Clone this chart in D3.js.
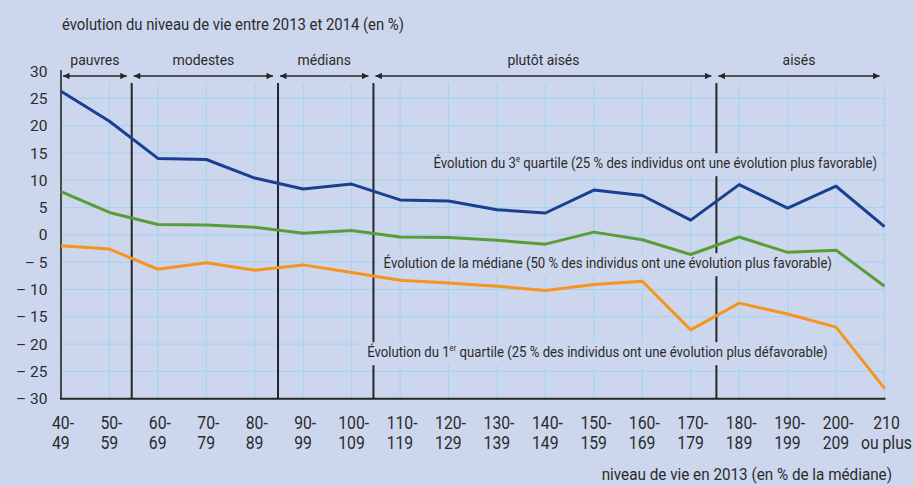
<!DOCTYPE html>
<html>
<head>
<meta charset="utf-8">
<script src="https://cdn.jsdelivr.net/npm/d3@7"></script>
<style>
  body { margin: 0; background: #ccd7ee; }
  svg { display: block; }
  text { font-family: Roboto, "Liberation Sans", sans-serif; fill: #2b2b2b; }
</style>
</head>
<body>
<div class="chart-container"></div>
<script>
const width = 914;
const height = 486;

// niveau de vie en 2013 (en % de la médiane)
const categories = ['40-|49', '50-|59', '60-|69', '70-|79', '80-|89', '90-|99', '100-|109',
  '110-|119', '120-|129', '130-|139', '140-|149', '150-|159', '160-|169', '170-|179',
  '180-|189', '190-|199', '200-|209', '210|ou plus'];

// évolution du niveau de vie entre 2013 et 2014 (en %)
const q3 = [26.3, 20.8, 14.0, 13.8, 10.4, 8.4, 9.3, 6.4, 6.2, 4.6, 4.0, 8.2, 7.2, 2.7, 9.2, 4.9, 8.9, 1.5];
const median = [7.9, 4.1, 1.9, 1.8, 1.4, 0.3, 0.8, -0.4, -0.5, -1.0, -1.7, 0.5, -0.9, -3.6, -0.4, -3.2, -2.8, -9.4];
const q1 = [-2.0, -2.6, -6.3, -5.1, -6.5, -5.5, -6.9, -8.3, -8.8, -9.4, -10.2, -9.1, -8.5, -17.4, -12.5, -14.5, -16.9, -28.1];

const yTicks = [30, 25, 20, 15, 10, 5, 0, -5, -10, -15, -20, -25, -30];

// groupes de niveau de vie (bornes en rang de catégorie)
const groups = ['pauvres', 'modestes', 'médians', 'plutôt aisés', 'aisés'];
const groupBounds = [0, 1.46, 4.48, 6.45, 13.53, 17];

// annotations : [texte avant exposant, exposant, suite], ancrage en rang / valeur
const notes = [
  { parts: ['Évolution du 3', 'e', ' quartile (25 % des individus ont une évolution plus favorable)'], at: 7.69, v: 12.2 },
  { parts: ['Évolution de la médiane (50 % des individus ont une évolution plus favorable)', '', ''], at: 6.66, v: -6.1 },
  { parts: ['Évolution du 1', 'er', ' quartile (25 % des individus ont une évolution plus défavorable)'], at: 6.32, v: -22.4 }
];

const series = [
  { values: q3, color: '#1b3f90' },
  { values: median, color: '#5a9d38' },
  { values: q1, color: '#f7941d' }
];

const bg = '#ccd7ee';
const ink = '#262626';

const svg = d3.select('.chart-container').append('svg')
  .attr('xmlns', 'http://www.w3.org/2000/svg')
  .attr('width', width)
  .attr('height', height);

// texte « condensé » : Roboto resserré horizontalement
let condensed = (parent, x, y, size, sx) => {
  return parent.append('g')
    .attr('transform', 'translate(' + x + ',' + y + ') scale(' + sx + ',1)')
    .style('font-size', size + 'px');
};

const scaleX = d3.scaleLinear().domain([0, categories.length - 1]).range([61, 884.5]);
const scaleY = d3.scaleLinear().domain([-30, 30]).range([398.7, 71]);
const gridTop = 83;

// grille
const grid = svg.append('g');
grid.selectAll('line.v').data(categories.slice(1)).enter().append('line')
  .attr('x1', (d, i) => scaleX(i + 1)).attr('x2', (d, i) => scaleX(i + 1))
  .attr('y1', gridTop).attr('y2', scaleY(-30))
  .attr('stroke', '#a3d2f2').attr('stroke-width', 1);
grid.selectAll('line.h').data(yTicks.filter(t => t < 30 && t > -30)).enter().append('line')
  .attr('x1', scaleX(0)).attr('x2', scaleX(17))
  .attr('y1', d => scaleY(d)).attr('y2', d => scaleY(d))
  .attr('stroke', '#a3d2f2').attr('stroke-width', 1);

// séparateurs entre groupes
svg.append('g').selectAll('line').data(groupBounds.slice(1, -1)).enter().append('line')
  .attr('x1', d => scaleX(d)).attr('x2', d => scaleX(d))
  .attr('y1', gridTop).attr('y2', scaleY(-30))
  .attr('stroke', ink).attr('stroke-width', 2);

// axes
svg.append('line').attr('x1', scaleX(0)).attr('x2', scaleX(0))
  .attr('y1', 70).attr('y2', scaleY(-30)).attr('stroke', ink).attr('stroke-width', 1.6);
svg.append('line').attr('x1', scaleX(0) - 1).attr('x2', scaleX(17) + 1)
  .attr('y1', scaleY(-30)).attr('y2', scaleY(-30)).attr('stroke', ink).attr('stroke-width', 2);

// flèches des groupes
const defs = svg.append('defs');
defs.append('marker').attr('id', 'arrow').attr('viewBox', '0 0 10 10')
  .attr('refX', 10).attr('refY', 5).attr('markerWidth', 8).attr('markerHeight', 6.5)
  .attr('markerUnits', 'userSpaceOnUse').attr('orient', 'auto-start-reverse')
  .append('path').attr('d', 'M0,0L10,5L0,10Z').attr('fill', ink);

const arrows = svg.append('g');
groups.forEach((name, i) => {
  const x1 = scaleX(groupBounds[i]) + 2;
  const x2 = scaleX(groupBounds[i + 1]) - 5;
  arrows.append('line').attr('x1', x1).attr('x2', x2).attr('y1', 76).attr('y2', 76)
    .attr('stroke', ink).attr('stroke-width', 1.3)
    .attr('marker-start', 'url(#arrow)').attr('marker-end', 'url(#arrow)');
  condensed(arrows, (x1 + x2) / 2, 65, 15.5, 0.9).append('text')
    .attr('text-anchor', 'middle').text(name);
});

// annotations avec fond
const noteG = svg.append('g');
notes.forEach((n) => {
  const g = condensed(noteG, scaleX(n.at), scaleY(n.v), 15.5, 0.85);
  const t = g.append('text');
  t.append('tspan').text(n.parts[0]);
  if (n.parts[1]) {
    t.append('tspan').attr('dy', -6).style('font-size', '9px').text(n.parts[1]);
    t.append('tspan').attr('dy', 6).text(n.parts[2]);
  }
  const bb = t.node().getBBox();
  g.insert('rect', 'text')
    .attr('x', -5).attr('y', -15).attr('width', bb.width + 10).attr('height', 23)
    .attr('fill', bg);
});

// courbes
const line = d3.line().x((d, i) => scaleX(i)).y(d => scaleY(d));
svg.append('g').selectAll('path').data(series).enter().append('path')
  .attr('d', d => line(d.values))
  .attr('fill', 'none').attr('stroke', d => d.color).attr('stroke-width', 3)
  .attr('stroke-linejoin', 'round');

// graduations Y
svg.append('g').selectAll('text').data(yTicks).enter().append('text')
  .attr('x', 47.5).attr('y', d => scaleY(d)).attr('dy', '0.36em')
  .attr('text-anchor', 'end').style('font-size', '15.5px')
  .text(d => d < 0 ? '\u2013 ' + Math.abs(d) : d);

// libellés X
const xLabels = svg.append('g');
categories.forEach((c, i) => {
  const [a, b] = c.split('|');
  const g = condensed(xLabels, scaleX(i) + 2, 429, 17.5, 0.9);
  const l1 = g.append('text').attr('text-anchor', 'middle').text(a);
  if (i === categories.length - 1) {
    g.append('text').attr('y', 20).attr('text-anchor', 'middle').text(b);
  } else {
    const w = l1.node().getComputedTextLength();
    g.append('text').attr('x', -w / 2).attr('y', 20).text(b);
  }
});

// titres des axes
condensed(svg, 62, 30, 16.5, 0.9).append('text')
  .text('évolution du niveau de vie entre 2013 et 2014 (en %)');
condensed(svg, 892, 480, 16.5, 0.925).append('text').attr('text-anchor', 'end')
  .text('niveau de vie en 2013 (en % de la médiane)');
</script>
</body>
</html>
